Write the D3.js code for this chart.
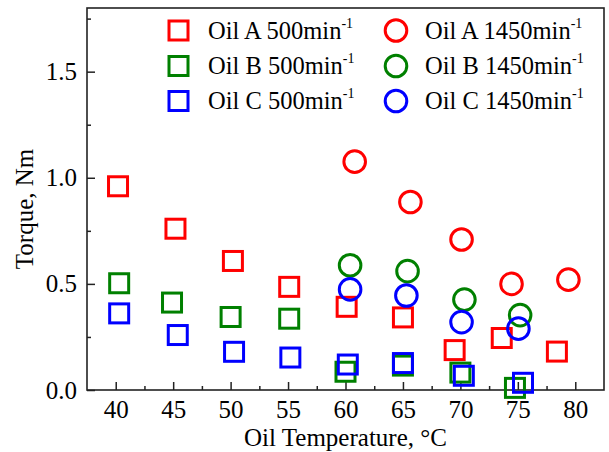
<!DOCTYPE html>
<html>
<head>
<meta charset="utf-8">
<script src="https://cdn.jsdelivr.net/npm/d3@7/dist/d3.min.js"></script>
<style>
  html, body { margin: 0; padding: 0; background: #fff; }
  svg { display: block; }
  text { font-family: "Liberation Serif", "Times New Roman", serif; fill: #000; }
</style>
</head>
<body>
<svg id="chart" width="609" height="452"></svg>
<script>
// ---- data ----
const xTicks = [40, 45, 50, 55, 60, 65, 70, 75, 80];
const yTicks = [0.0, 0.5, 1.0, 1.5];
const yTickLabels = ["0.0", "0.5", "1.0", "1.5"];

const oilA500 = [[40.2,0.96],[45.2,0.76],[50.2,0.608],[55.1,0.486],[60.1,0.392],[65.0,0.342],[69.5,0.188],[73.6,0.245],[78.4,0.181]];
const oilB500 = [[40.3,0.503],[44.9,0.412],[50.0,0.344],[55.1,0.336],[60.0,0.086],[65.0,0.115],[70.0,0.082],[74.75,0.01]];
const oilC500 = [[40.3,0.361],[45.4,0.259],[50.3,0.18],[55.2,0.153],[60.2,0.12],[65.0,0.127],[70.3,0.067],[75.45,0.034]];
const oilA1450 = [[60.8,1.076],[65.65,0.886],[70.1,0.709],[74.45,0.50],[79.4,0.52]];
const oilB1450 = [[60.4,0.588],[65.4,0.56],[70.35,0.426],[75.2,0.353]];
const oilC1450 = [[60.4,0.474],[65.3,0.445],[70.1,0.32],[75.05,0.289]];

const seriesNames = ["Oil A 500min", "Oil B 500min", "Oil C 500min", "Oil A 1450min", "Oil B 1450min", "Oil C 1450min"];
const seriesColors = ["#ff0000", "#008000", "#0000ff", "#ff0000", "#008000", "#0000ff"];
const seriesShapes = ["square", "square", "square", "circle", "circle", "circle"];
const seriesData = [oilA500, oilB500, oilC500, oilA1450, oilB1450, oilC1450];

// ---- layout ----
const svg = d3.select("#chart");
const L = 87, R = 604, T = 8, B = 390;
const fs = 25;
const x = d3.scaleLinear().domain([37.5, 82.5]).range([L, R]);
const y = d3.scaleLinear().domain([0, 1.8]).range([B, T]);
const axisColor = "#222";

// minor ticks
const xMinor = d3.range(42.5, 80, 5);
const yMinor = [0.25, 0.75, 1.25, 1.75];

const gx = svg.append("g").attr("transform", `translate(0,${B})`)
  .call(d3.axisBottom(x).tickValues(xTicks).tickSizeInner(-8).tickSizeOuter(0).tickPadding(10).tickFormat(d3.format("d")));
const gxm = svg.append("g").attr("transform", `translate(0,${B})`)
  .call(d3.axisBottom(x).tickValues(xMinor).tickSizeInner(-4).tickSizeOuter(0).tickFormat(""));
const gy = svg.append("g").attr("transform", `translate(${L},0)`)
  .call(d3.axisLeft(y).tickValues(yTicks).tickSizeInner(-8).tickSizeOuter(0).tickPadding(10).tickFormat((d, i) => yTickLabels[i]));
const gym = svg.append("g").attr("transform", `translate(${L},0)`)
  .call(d3.axisLeft(y).tickValues(yMinor).tickSizeInner(-4).tickSizeOuter(0).tickFormat(""));

[gx, gxm, gy, gym].forEach(g => {
  g.select(".domain").remove();
  g.selectAll(".tick line").attr("stroke", axisColor).attr("stroke-width", 1.5);
  g.selectAll(".tick text").attr("font-size", fs).attr("font-family", "Liberation Serif").attr("fill", "#000");
});

// frame
svg.append("rect").attr("x", L).attr("y", T).attr("width", R - L).attr("height", B - T)
  .attr("fill", "none").attr("stroke", axisColor).attr("stroke-width", 1.6);

// axis titles
svg.append("text").attr("x", (L + R) / 2).attr("y", 446).attr("text-anchor", "middle")
  .attr("font-size", fs).text("Oil Temperature, °C");
svg.append("text").attr("transform", `translate(33,209) rotate(-90)`).attr("text-anchor", "middle")
  .attr("font-size", fs).text("Torque, Nm");

// markers
const sq = 19, rc = 10.8, sw = 3;
function drawMarker(g, shape, color, cx, cy) {
  if (shape === "square") {
    g.append("rect").attr("x", cx - sq / 2).attr("y", cy - sq / 2).attr("width", sq).attr("height", sq)
      .attr("fill", "none").attr("stroke", color).attr("stroke-width", sw);
  } else {
    g.append("circle").attr("cx", cx).attr("cy", cy).attr("r", rc)
      .attr("fill", "none").attr("stroke", color).attr("stroke-width", sw);
  }
}
const plot = svg.append("g");
seriesData.forEach((data, i) => {
  const g = plot.append("g");
  data.forEach(d => drawMarker(g, seriesShapes[i], seriesColors[i], x(d[0]), y(d[1])));
});

// legend
const legCols = [{mx: 178.5, tx: 208}, {mx: 396, tx: 425}];
const legRows = [30.5, 66, 101];
seriesNames.forEach((name, i) => {
  const col = legCols[Math.floor(i / 3)];
  const ry = legRows[i % 3];
  const g = svg.append("g");
  drawMarker(g, seriesShapes[i], seriesColors[i], col.mx, ry);
  const t = g.append("text").attr("x", col.tx).attr("y", ry + 8).attr("font-size", 24.5);
  t.append("tspan").text(name);
  t.append("tspan").attr("font-size", 14).attr("dy", -11).text("-1");
});
</script>
</body>
</html>
